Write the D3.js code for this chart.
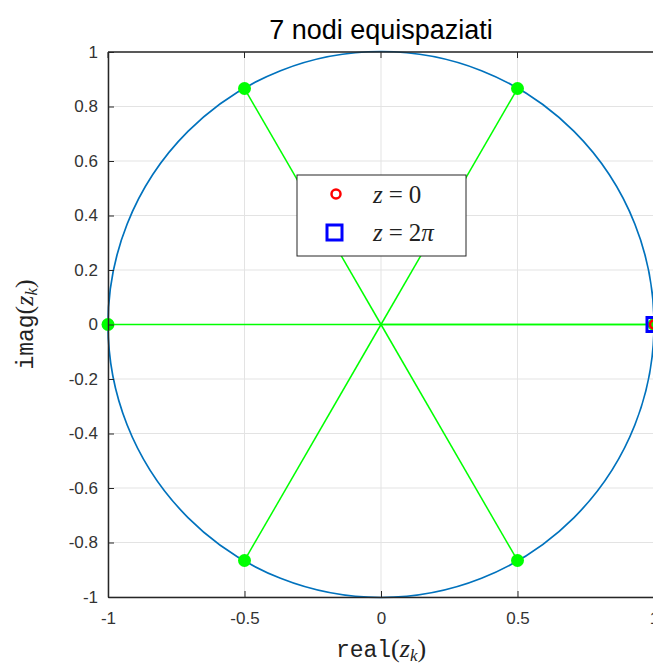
<!DOCTYPE html>
<html>
<head>
<meta charset="utf-8">
<script src="https://cdn.jsdelivr.net/npm/d3@7"></script>
<style>
  html, body { margin: 0; padding: 0; background: #fff; overflow: hidden; }
  svg { display: block; }
</style>
</head>
<body>
<svg id="chart" width="653" height="669"></svg>
<script>
// Seven equispaced nodes on the unit circle (first and last coincide at z = 1)
const nodeReal = [1, 0.5, -0.5, -1, -0.5, 0.5, 1];
const nodeImag = [0, 0.866, 0.866, 0, -0.866, -0.866, 0];
const xTicks = [-1, -0.5, 0, 0.5, 1];
const yTicks = [-1, -0.8, -0.6, -0.4, -0.2, 0, 0.2, 0.4, 0.6, 0.8, 1];
const titleText = "7 nodi equispaziati";

const svg = d3.select("#chart");
const x = d3.scaleLinear().domain([-1, 1]).range([108, 654]);
const y = d3.scaleLinear().domain([-1, 1]).range([597, 52]);

const axisColor = "#262626";
const tickColor = "#333";
const fmt = d => String(+d.toFixed(1));

// grid
const grid = svg.append("g");
grid.selectAll(".gx").data(xTicks).join("line")
  .attr("x1", d => x(d)).attr("x2", d => x(d))
  .attr("y1", y(-1)).attr("y2", y(1))
  .attr("stroke", "#e3e3e3").attr("stroke-width", 1);
grid.selectAll(".gy").data(yTicks).join("line")
  .attr("x1", x(-1)).attr("x2", x(1))
  .attr("y1", d => y(d)).attr("y2", d => y(d))
  .attr("stroke", "#e3e3e3").attr("stroke-width", 1);

// unit circle
svg.append("circle")
  .attr("cx", x(0)).attr("cy", y(0))
  .attr("r", x(1) - x(0))
  .attr("fill", "none").attr("stroke", "#0072BD").attr("stroke-width", 1.7);

// spokes from the origin to every node
const nodes = nodeReal.map((r, i) => ({ re: r, im: nodeImag[i] }));
svg.append("g").selectAll("line").data(nodes).join("line")
  .attr("x1", x(0)).attr("y1", y(0))
  .attr("x2", d => x(d.re)).attr("y2", d => y(d.im))
  .attr("stroke", "#00FF00").attr("stroke-width", 1.5);

// node markers (interior ones)
svg.append("g").selectAll("circle").data(nodes.slice(1, 6)).join("circle")
  .attr("cx", d => x(d.re)).attr("cy", d => y(d.im))
  .attr("r", 6.5).attr("fill", "#00FF00");

// first and last nodes
const first = nodes[0], last = nodes[6];
svg.append("circle")
  .attr("cx", x(first.re)).attr("cy", y(first.im)).attr("r", 6.5)
  .attr("fill", "#00FF00");
svg.append("rect")
  .attr("x", x(last.re) - 7).attr("y", y(last.im) - 7)
  .attr("width", 14).attr("height", 14)
  .attr("fill", "none").attr("stroke", "#0000FF").attr("stroke-width", 3);
svg.append("circle")
  .attr("cx", x(first.re)).attr("cy", y(first.im)).attr("r", 4)
  .attr("fill", "none").attr("stroke", "#FF0000").attr("stroke-width", 2.5);

// axes
const axX = d3.axisBottom(x).tickValues(xTicks).tickSizeInner(-6).tickSizeOuter(0).tickFormat(fmt);
const gx = svg.append("g").attr("transform", `translate(0,${y(-1)})`).call(axX);
gx.select(".domain").attr("stroke", axisColor).attr("stroke-width", 1.5);
gx.selectAll(".tick line").attr("stroke", axisColor);
gx.selectAll(".tick text").attr("dy", "1.4em")
  .attr("font-family", "Liberation Sans, Arial, sans-serif")
  .attr("font-size", 17).attr("fill", tickColor);

const axY = d3.axisLeft(y).tickValues(yTicks).tickSizeInner(-6).tickSizeOuter(0).tickFormat(fmt);
const gy = svg.append("g").attr("transform", `translate(${x(-1)},0)`).call(axY);
gy.select(".domain").attr("stroke", axisColor).attr("stroke-width", 1.5);
gy.selectAll(".tick line").attr("stroke", axisColor);
gy.selectAll(".tick text").attr("x", -10)
  .attr("font-family", "Liberation Sans, Arial, sans-serif")
  .attr("font-size", 17).attr("fill", tickColor);

// top edge of the box and its ticks
svg.append("line")
  .attr("x1", x(-1)).attr("x2", x(1)).attr("y1", y(1)).attr("y2", y(1))
  .attr("stroke", axisColor).attr("stroke-width", 1.5);
svg.append("g").selectAll("line").data(xTicks).join("line")
  .attr("x1", d => x(d)).attr("x2", d => x(d))
  .attr("y1", y(1)).attr("y2", y(1) + 6)
  .attr("stroke", axisColor);

// title
svg.append("text")
  .attr("x", x(0)).attr("y", 39)
  .attr("text-anchor", "middle")
  .attr("font-family", "Liberation Sans, Arial, sans-serif")
  .attr("font-size", 27).attr("fill", "#000")
  .text(titleText);

// axis labels: monospace function name, serif italic variable
function mathLabel(g, fn) {
  const t = g.append("text").attr("text-anchor", "middle").attr("font-size", 26).attr("fill", "#222");
  t.append("tspan").attr("font-family", "Liberation Mono, DejaVu Sans Mono, monospace").attr("font-size", 23).text(fn);
  t.append("tspan").attr("font-family", "Liberation Serif, serif").text("(");
  t.append("tspan").attr("font-family", "Liberation Serif, serif").attr("font-style", "italic").text("z");
  t.append("tspan").attr("font-family", "Liberation Serif, serif").attr("font-style", "italic")
    .attr("font-size", 17).attr("dy", 4).text("k");
  t.append("tspan").attr("font-family", "Liberation Serif, serif").attr("dy", -4).text(")");
  return t;
}
mathLabel(svg.append("g").attr("transform", `translate(${x(0)},657)`), "real");
mathLabel(svg.append("g").attr("transform", `translate(33,${y(0)}) rotate(-90)`), "imag");

// legend
const lg = svg.append("g").attr("transform", "translate(297,175)");
lg.append("rect").attr("width", 169).attr("height", 81)
  .attr("fill", "#fff").attr("stroke", axisColor).attr("stroke-width", 1);
lg.append("circle").attr("cx", 39).attr("cy", 19).attr("r", 4.5)
  .attr("fill", "none").attr("stroke", "#FF0000").attr("stroke-width", 2.5);
lg.append("rect").attr("x", 30).attr("y", 50).attr("width", 15).attr("height", 15)
  .attr("fill", "none").attr("stroke", "#0000FF").attr("stroke-width", 3);
const legendItems = [["0", 28], ["2π", 66]];
legendItems.forEach(([v, yy]) => {
  const t = lg.append("text").attr("x", 76).attr("y", yy)
    .attr("font-family", "Liberation Serif, serif").attr("font-size", 25).attr("fill", "#222");
  t.append("tspan").attr("font-style", "italic").text("z");
  t.append("tspan").attr("dx", 6).text("=");
  t.append("tspan").attr("dx", 6).text(v.replace("π", ""));
  if (v.includes("π")) t.append("tspan").attr("font-style", "italic").text("π");
});
</script>
</body>
</html>
